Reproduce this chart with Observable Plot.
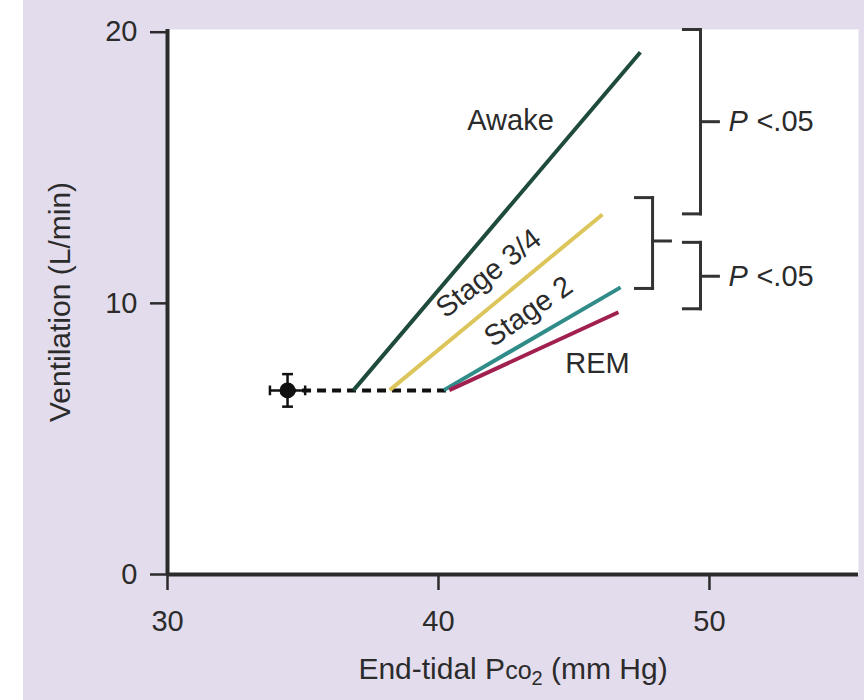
<!DOCTYPE html>
<html><head><meta charset="utf-8">
<script src="https://cdn.jsdelivr.net/npm/d3@7"></script>
<script src="https://cdn.jsdelivr.net/npm/@observablehq/plot@0.6"></script>
<style>
body{margin:0;background:#fff;}
#chart svg{display:block;}
</style></head><body><div id="chart"></div>
<script>
// ---- data ----
const stages = ["Awake", "Stage 3/4", "Stage 2", "REM"];
const startX = [36.86, 38.2, 40.2, 40.4];
const startY = [6.79, 6.8, 6.8, 6.8];
const endX = [47.45, 46.05, 46.72, 46.64];
const endY = [19.26, 13.28, 10.59, 9.67];
const colors = ["#1f4b3d", "#dcc65c", "#2f8c89", "#a2204f"];
const labelX = [42.66, 41.85, 43.32, 45.87];
const labelY = [16.75, 11.1, 9.7, 7.79];
const labelAngle = [0, -38, -35, 0];

const restX = 34.43, restY = 6.79, restXErr = 0.65, restYErr = 0.6;
const dashEndX = 40.4;

const bracketX = [49.67, 47.9, 49.67];
const bracketTop = [20.1, 13.9, 12.25];
const bracketBottom = [13.3, 10.55, 9.8];
const bracketMid = [16.7, 12.3, 11.0];
const pLabelY = [16.7, 11.0];
const pLabelX = 50.7;

const xTicks = [30, 40, 50];
const yTicks = [0, 10, 20];
const xLabel = "End-tidal Pco2 (mm Hg)";
const yLabel = "Ventilation (L/min)";

// ---- derived tables ----
const lines = stages.map((s, i) => ({s, x1: startX[i], y1: startY[i], x2: endX[i], y2: endY[i], c: colors[i]}));
const labels = stages.map((s, i) => ({s, x: labelX[i], y: labelY[i], a: labelAngle[i]}));
const arm = 0.63, tick = 0.66;
const segs = [];
bracketX.forEach((x, i) => {
  segs.push({x1: x, y1: bracketTop[i], x2: x, y2: bracketBottom[i]});
  segs.push({x1: x - arm, y1: bracketTop[i], x2: x, y2: bracketTop[i]});
  segs.push({x1: x - arm, y1: bracketBottom[i], x2: x, y2: bracketBottom[i]});
  segs.push({x1: x, y1: bracketMid[i], x2: x + tick, y2: bracketMid[i]});
});
const rest = [{x: restX, y: restY}];
const cap = 0.2;
const errSegs = [
  {x1: restX - restXErr, y1: restY, x2: restX + restXErr, y2: restY},
  {x1: restX, y1: restY - restYErr, x2: restX, y2: restY + restYErr},
  {x1: restX - restXErr, y1: restY - cap * 0.9, x2: restX - restXErr, y2: restY + cap * 0.9},
  {x1: restX + restXErr, y1: restY - cap * 0.9, x2: restX + restXErr, y2: restY + cap * 0.9},
  {x1: restX - cap, y1: restY - restYErr, x2: restX + cap, y2: restY - restYErr},
  {x1: restX - cap, y1: restY + restYErr, x2: restX + cap, y2: restY + restYErr}
];

const FONT = "'Liberation Sans', Arial, Helvetica, sans-serif";
const ink = "#2b2b2b";
const FS = 29;

const plot = Plot.plot({
  width: 864,
  height: 700,
  marginLeft: 167,
  marginRight: 6,
  marginTop: 29,
  marginBottom: 126,
  style: {
    background: "linear-gradient(to right, #ffffff 0 23px, #e3dcec 23px)",
    fontFamily: FONT,
    fontSize: FS + "px",
    color: ink
  },
  x: {domain: [30, 55.5]},
  y: {domain: [0, 20.1]},
  marks: [
    Plot.frame({fill: "white", stroke: null}),
    Plot.axisY(yTicks, {tickSize: 17, tickPadding: 13, strokeWidth: 2.5, fontSize: FS, label: null, stroke: ink, fill: ink}),
    Plot.axisX(xTicks, {tickSize: 16, tickPadding: 20, strokeWidth: 2.5, fontSize: FS, label: null, stroke: ink, fill: ink}),
    Plot.ruleX([30], {stroke: ink, strokeWidth: 4}),
    Plot.ruleY([0], {stroke: ink, strokeWidth: 4}),
    Plot.ruleY([{y: restY, x1: restX, x2: dashEndX}], {y: "y", x1: "x1", x2: "x2", stroke: "#111", strokeWidth: 4, strokeDasharray: "9,6"}),
    Plot.link(lines, {x1: "x1", y1: "y1", x2: "x2", y2: "y2", stroke: "c", strokeWidth: 4}),
    Plot.link(errSegs, {x1: "x1", y1: "y1", x2: "x2", y2: "y2", stroke: "#111", strokeWidth: 2.5}),
    Plot.dot(rest, {x: "x", y: "y", r: 8, fill: "#111"}),
    Plot.link(segs, {x1: "x1", y1: "y1", x2: "x2", y2: "y2", stroke: "#333", strokeWidth: 3, strokeLinecap: "square"}),
    Plot.text(labels, {x: "x", y: "y", text: "s", rotate: "a", fontSize: FS, fill: ink}),
    Plot.text(pLabelY, {x: pLabelX, y: d => d, text: () => "P", fontStyle: "italic", textAnchor: "start", fontSize: FS, fill: ink}),
    Plot.text(pLabelY, {x: pLabelX, y: d => d, text: () => "<.05", dx: 28, textAnchor: "start", fontSize: FS, fill: ink}),
    Plot.text([yLabel], {frameAnchor: "left", dx: -107, rotate: -90, textAnchor: "middle", text: d => d, fontSize: 30, fill: ink}),
    Plot.text([xLabel], {frameAnchor: "bottom", dy: 104, textAnchor: "middle", text: d => d, fontSize: 30, fill: ink})
  ]
});

// Format the x label: P + small "co" + subscript 2
d3.select(plot).selectAll("text").each(function() {
  if (this.textContent === xLabel) {
    const t = d3.select(this);
    t.text(null);
    t.append("tspan").text("End-tidal P");
    t.append("tspan").attr("font-size", "25px").text("co");
    t.append("tspan").attr("font-size", "20px").attr("dy", "6").text("2");
    t.append("tspan").attr("dy", "-6").text(" (mm Hg)");
  }
});

document.getElementById("chart").append(plot);
</script></body></html>
